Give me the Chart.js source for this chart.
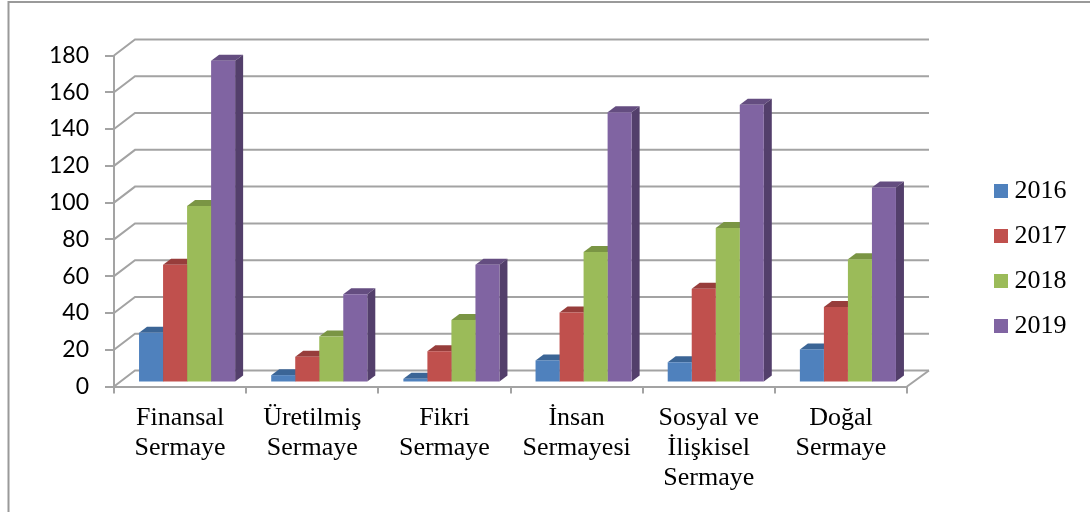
<!DOCTYPE html>
<html>
<head>
<meta charset="utf-8">
<style>
    html, body { margin: 0; padding: 0; background: #fff; overflow: hidden; }
    #wrap { width: 1090px; height: 512px; position: relative; }
</style>
<script src="https://cdn.jsdelivr.net/npm/chart.js@4"></script>
</head>
<body>
<div id="wrap"><canvas id="myChart" width="1090" height="512"></canvas></div>
<script>
const categories = [
    ['Finansal', 'Sermaye'],
    ['Üretilmiş', 'Sermaye'],
    ['Fikri', 'Sermaye'],
    ['İnsan', 'Sermayesi'],
    ['Sosyal ve', 'İlişkisel', 'Sermaye'],
    ['Doğal', 'Sermaye'],
];
const years = ['2016', '2017', '2018', '2019'];
const values2016 = [27, 4, 2, 12, 11, 18];
const values2017 = [64, 14, 17, 38, 51, 41];
const values2018 = [96, 25, 34, 71, 84, 67];
const values2019 = [175, 48, 64, 147, 151, 106];
const frontColors = ['#4f81bd', '#c0504d', '#9bbb59', '#8064a2'];
const topColors = ['#3b6596', '#973d3b', '#7a9544', '#644d80'];
const sideColors = ['#2f5078', '#7c3230', '#627836', '#533f6b'];
const gridColor = '#a3a3a3';

// 벽면 깊이
const wallDx = 21;
const wallDy = -16;
// 막대 깊이
const barShiftX = 7;
const barShiftY = -4;
const barDepthX = 8;
const barDepthY = -6;

const serif = 'Liberation Serif';

// 범례 사각형 (글자와의 간격을 줄이기 위해 캔버스로 만든다)
function legendSwatch(color) {
    const swatch = document.createElement('canvas');
    swatch.width = 14;
    swatch.height = 14;
    const swatchCtx = swatch.getContext('2d');
    swatchCtx.fillStyle = color;
    swatchCtx.fillRect(0, 0, 14, 14);
    return swatch;
}

const depthPlugin = {
    id: 'depth',
    beforeDraw(chart) {
        const ctx = chart.ctx;
        ctx.save();
        ctx.strokeStyle = '#9a9a9a';
        ctx.lineWidth = 2;
        ctx.beginPath();
        ctx.moveTo(8.5, 512);
        ctx.lineTo(8.5, 2);
        ctx.lineTo(1090, 2);
        ctx.stroke();
        ctx.restore();
    },
    beforeDatasetsDraw(chart) {
        const ctx = chart.ctx;
        const yScale = chart.scales.y;
        const left = chart.chartArea.left;
        const right = chart.chartArea.right;

        ctx.save();
        ctx.strokeStyle = gridColor;
        ctx.lineWidth = 2;
        yScale.ticks.forEach((tick) => {
            const y = yScale.getPixelForValue(tick.value);
            ctx.beginPath();
            ctx.moveTo(left, y);
            ctx.lineTo(left + wallDx, y + wallDy);
            ctx.lineTo(right + wallDx + 1, y + wallDy);
            ctx.stroke();
        });
        ctx.beginPath();
        ctx.moveTo(right, yScale.bottom);
        ctx.lineTo(right + wallDx + 1, yScale.bottom + wallDy);
        ctx.stroke();
        ctx.restore();

        // 막대 윗면, 옆면을 먼저 그리고 앞면은 Chart.js가 그린다
        ctx.save();
        ctx.translate(barShiftX, barShiftY);
        chart.data.datasets.forEach((dataset, d) => {
            chart.getDatasetMeta(d).data.forEach((bar) => {
                const p = bar.getProps(['x', 'y', 'base', 'width'], true);
                const l = p.x - p.width / 2;
                const r = p.x + p.width / 2;
                ctx.fillStyle = topColors[d];
                ctx.beginPath();
                ctx.moveTo(l, p.y);
                ctx.lineTo(l + barDepthX, p.y + barDepthY);
                ctx.lineTo(r + barDepthX, p.y + barDepthY);
                ctx.lineTo(r, p.y);
                ctx.closePath();
                ctx.fill();
                ctx.fillStyle = sideColors[d];
                ctx.beginPath();
                ctx.moveTo(r, p.y);
                ctx.lineTo(r + barDepthX, p.y + barDepthY);
                ctx.lineTo(r + barDepthX, p.base + barDepthY);
                ctx.lineTo(r, p.base);
                ctx.closePath();
                ctx.fill();
            });
        });
        ctx.restore();

        ctx.save();
        ctx.translate(barShiftX, barShiftY);
    },
    afterDatasetsDraw(chart) {
        chart.ctx.restore();
    },
    afterLayout(chart) {
        // 범례를 축과 떨어진 자리로 옮긴다
        const legend = chart.legend;
        const shift = 981.5 - legend.left;
        legend.left += shift;
        legend.right += shift;
        legend.top -= 25;
        legend.bottom -= 25;
    },
};

const ctx = document.getElementById('myChart').getContext('2d');
const myChart = new Chart(ctx, {
    type: 'bar',
    data: {
        labels: categories,
        datasets: [values2016, values2017, values2018, values2019].map((values, i) => ({
            label: years[i],
            data: values,
            backgroundColor: frontColors[i],
            clip: false,
        })),
    },
    options: {
        responsive: false,
        animation: false,
        barPercentage: 1,
        categoryPercentage: 0.727,
        layout: { padding: { top: 55.5, bottom: 0, right: 88, left: 0 } },
        plugins: {
            tooltip: { enabled: false },
            legend: {
                position: 'right',
                labels: {
                    color: '#000',
                    usePointStyle: true,
                    pointStyleWidth: 1,
                    boxHeight: 14,
                    padding: 19,
                    font: { family: serif, size: 26 },
                    generateLabels(chart) {
                        return chart.data.datasets.map((dataset, i) => ({
                            text: dataset.label,
                            fontColor: '#000',
                            pointStyle: legendSwatch(frontColors[i]),
                            datasetIndex: i,
                        }));
                    },
                },
            },
        },
        scales: {
            x: {
                afterFit(scale) {
                    scale.height = 125.5;
                },
                grid: {
                    drawOnChartArea: false,
                    color: gridColor,
                    lineWidth: 2,
                    tickLength: 7,
                },
                border: { color: gridColor, width: 2 },
                ticks: {
                    color: '#000',
                    maxRotation: 0,
                    autoSkip: false,
                    padding: 9.5,
                    font: { family: serif, size: 26, lineHeight: 1.16 },
                },
            },
            y: {
                min: 0,
                max: 180,
                afterFit(scale) {
                    scale.width = 114;
                },
                grid: {
                    drawOnChartArea: false,
                    color: gridColor,
                    lineWidth: 2,
                    tickLength: 9,
                },
                border: { color: gridColor, width: 2 },
                ticks: {
                    stepSize: 20,
                    color: '#000',
                    padding: 16,
                    font: { family: 'Lato', size: 23 },
                },
            },
        },
    },
    plugins: [depthPlugin],
});
</script>
</body>
</html>
